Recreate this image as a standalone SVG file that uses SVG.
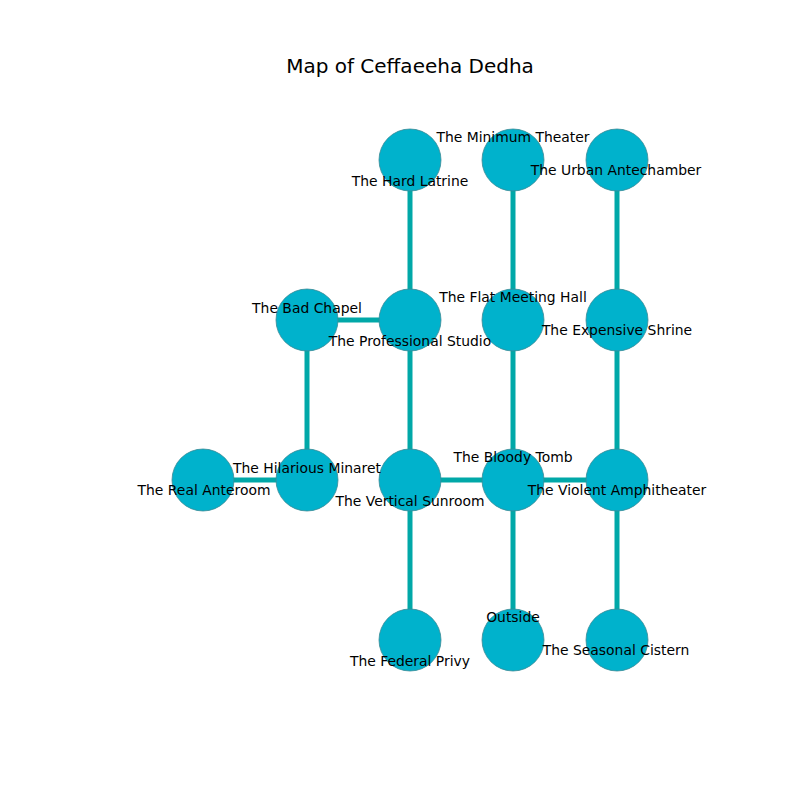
<svg xmlns="http://www.w3.org/2000/svg" width="800" height="800" viewBox="0 0 800 800">
<style>
.n{fill:#00b2cc;stroke:#3a8a96;stroke-width:0.8}
.e{stroke:#00a8a8;stroke-width:5;fill:none}
.t{font-family:"DejaVu Sans",sans-serif;font-size:13.9px;fill:#000;text-anchor:middle}
.title{font-family:"DejaVu Sans",sans-serif;font-size:20px;fill:#000;text-anchor:middle}
</style>
<rect width="800" height="800" fill="#fff"/>
<text class="title" x="410" y="73">Map of Ceffaeeha Dedha</text>
<g id="connectors">
<line class="e" x1="410" y1="160" x2="410" y2="320"/>
<line class="e" x1="513" y1="160" x2="513" y2="320"/>
<line class="e" x1="617" y1="160" x2="617" y2="320"/>
<line class="e" x1="307" y1="320" x2="410" y2="320"/>
<line class="e" x1="307" y1="320" x2="307" y2="480"/>
<line class="e" x1="410" y1="320" x2="410" y2="480"/>
<line class="e" x1="513" y1="320" x2="513" y2="480"/>
<line class="e" x1="617" y1="320" x2="617" y2="480"/>
<line class="e" x1="203" y1="480" x2="307" y2="480"/>
<line class="e" x1="410" y1="480" x2="513" y2="480"/>
<line class="e" x1="513" y1="480" x2="617" y2="480"/>
<line class="e" x1="410" y1="480" x2="410" y2="640"/>
<line class="e" x1="513" y1="480" x2="513" y2="640"/>
<line class="e" x1="617" y1="480" x2="617" y2="640"/>
</g>
<g id="hard-latrine"><circle class="n" cx="410" cy="160" r="31"/></g>
<g id="minimum-theater"><circle class="n" cx="513" cy="160" r="31"/></g>
<g id="urban-antechamber"><circle class="n" cx="617" cy="160" r="31"/></g>
<g id="bad-chapel"><circle class="n" cx="307" cy="320" r="31"/></g>
<g id="professional-studio"><circle class="n" cx="410" cy="320" r="31"/></g>
<g id="flat-meeting-hall"><circle class="n" cx="513" cy="320" r="31"/></g>
<g id="expensive-shrine"><circle class="n" cx="617" cy="320" r="31"/></g>
<g id="real-anteroom"><circle class="n" cx="203" cy="480" r="31"/></g>
<g id="hilarious-minaret"><circle class="n" cx="307" cy="480" r="31"/></g>
<g id="vertical-sunroom"><circle class="n" cx="410" cy="480" r="31"/></g>
<g id="bloody-tomb"><circle class="n" cx="513" cy="480" r="31"/></g>
<g id="violent-amphitheater"><circle class="n" cx="617" cy="480" r="31"/></g>
<g id="federal-privy"><circle class="n" cx="410" cy="640" r="31"/></g>
<g id="outside"><circle class="n" cx="513" cy="640" r="31"/></g>
<g id="seasonal-cistern"><circle class="n" cx="617" cy="640" r="31"/></g>
<g id="labels">
<text class="t" x="410" y="186">The Hard Latrine</text>
<text class="t" x="513" y="142">The Minimum Theater</text>
<text class="t" x="616" y="175">The Urban Antechamber</text>
<text class="t" x="307" y="313">The Bad Chapel</text>
<text class="t" x="410" y="346">The Professional Studio</text>
<text class="t" x="513" y="302">The Flat Meeting Hall</text>
<text class="t" x="617" y="335">The Expensive Shrine</text>
<text class="t" x="204" y="495">The Real Anteroom</text>
<text class="t" x="307" y="473">The Hilarious Minaret</text>
<text class="t" x="410" y="506">The Vertical Sunroom</text>
<text class="t" x="513" y="462">The Bloody Tomb</text>
<text class="t" x="617" y="495">The Violent Amphitheater</text>
<text class="t" x="410" y="666">The Federal Privy</text>
<text class="t" x="513" y="622">Outside</text>
<text class="t" x="616" y="655">The Seasonal Cistern</text>
</g>
</svg>
